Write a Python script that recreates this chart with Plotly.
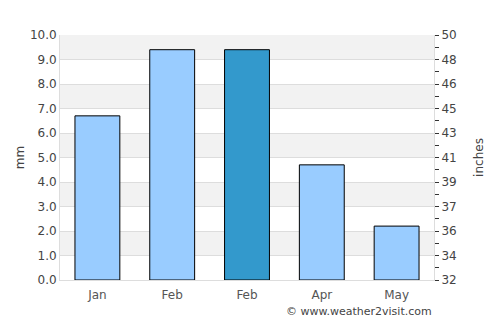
import plotly.graph_objects as go

months = ["Jan", "Feb", "Feb", "Apr", "May"]
rain_mm = [6.7, 9.4, 9.4, 4.7, 2.2]
bar_colors = ["#99CCFF", "#99CCFF", "#3399CC", "#99CCFF", "#99CCFF"]
mm_ticks = [0, 1, 2, 3, 4, 5, 6, 7, 8, 9, 10]
mm_labels = ["0.0", "1.0", "2.0", "3.0", "4.0", "5.0", "6.0", "7.0", "8.0", "9.0", "10.0"]
inch_labels = ["32", "34", "36", "37", "39", "41", "43", "45", "46", "48", "50"]

xs = list(range(len(months)))

fig = go.Figure()
fig.add_trace(go.Bar(
    x=xs, y=rain_mm, marker=dict(color=bar_colors, line=dict(color="black", width=1)),
    width=0.6, hoverinfo="skip", showlegend=False,
))
# invisible trace for secondary axis
fig.add_trace(go.Scatter(x=[xs[0]], y=[0], yaxis="y2", mode="markers",
                         marker=dict(opacity=0), showlegend=False, hoverinfo="skip"))

shapes = []
for lo in [1, 3, 5, 7, 9]:
    shapes.append(dict(type="rect", xref="paper", yref="y", x0=0, x1=1, y0=lo, y1=lo + 1,
                       fillcolor="#F2F2F2", line=dict(width=0), layer="below"))

font_color = "#444444"
fig.update_layout(
    width=500, height=325,
    margin=dict(l=60, r=66, t=35, b=45),
    plot_bgcolor="white", paper_bgcolor="white",
    font=dict(family="DejaVu Sans", size=12, color=font_color),
    shapes=shapes,
    xaxis=dict(tickmode="array", tickvals=xs, ticktext=months, range=[-0.5, 4.5],
               showgrid=False, showline=True, linecolor="#DDDDDD", linewidth=1,
               ticks="", tickfont=dict(size=12, color="#555555"), zeroline=False,
               ticklabelstandoff=4),
    yaxis=dict(range=[0, 10], tickmode="array", tickvals=mm_ticks, ticktext=mm_labels,
               showgrid=True, gridcolor="#DDDDDD", gridwidth=1, showline=True,
               linecolor="#DDDDDD", linewidth=1, zeroline=False, ticks="",
               title=dict(text="mm", standoff=2, font=dict(size=12, color=font_color)),
               tickfont=dict(size=12, color=font_color)),
    yaxis2=dict(range=[0, 10], overlaying="y", side="right", tickmode="array",
                tickvals=mm_ticks, ticktext=inch_labels, showgrid=False, showline=True,
                linecolor="#DDDDDD", linewidth=1, zeroline=False,
                ticks="outside", ticklen=4, tickcolor="#333333",
                minor=dict(tickvals=[v + 0.5 for v in mm_ticks[:-1]], ticks="outside",
                           ticklen=4, tickcolor="#333333", showgrid=False),
                title=dict(text="inches", standoff=18, font=dict(size=12, color=font_color)),
                tickfont=dict(size=12, color=font_color)),
    annotations=[dict(text="© www.weather2visit.com", xref="paper", yref="paper",
                      x=1, y=-0.095, xanchor="right", yanchor="top", showarrow=False,
                      font=dict(size=11, color="#444444"))],
)

fig.write_html("out.html")
